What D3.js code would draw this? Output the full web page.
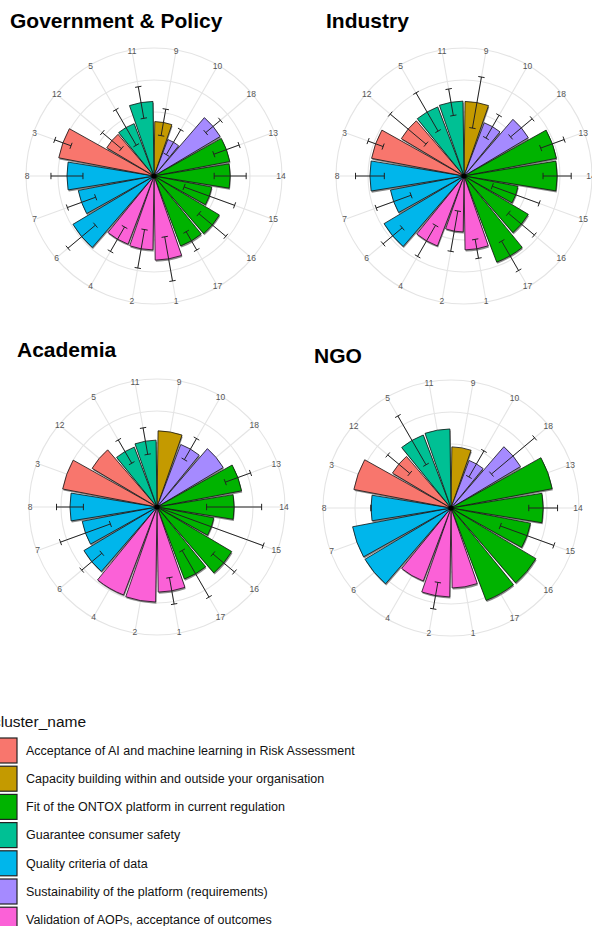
<!DOCTYPE html>
<html>
<head>
<meta charset="utf-8">
<script src="https://cdnjs.cloudflare.com/ajax/libs/d3/7.8.5/d3.min.js"></script>
<style>
  body { margin: 0; background: #fff; }
  svg { display: block; font-family: "Liberation Sans", Arial, sans-serif; }
</style>
</head>
<body>
<script>
const W = 592, H = 926;

// item ids, in the order they sit clockwise from 12 o'clock
const items = ["9", "10", "18", "13", "14", "15", "16", "17", "1", "2", "4", "6", "7", "8", "3", "12", "5", "11"];

const clusters = [
  "Acceptance of AI and machine learning in Risk Assessment",
  "Capacity building within and outside your organisation",
  "Fit of the ONTOX platform in current regulation",
  "Guarantee consumer safety",
  "Quality criteria of data",
  "Sustainability of the platform (requirements)",
  "Validation of AOPs, acceptance of outcomes"
];
const clusterColors = ["#F8766D", "#C49A00", "#00B300", "#00C094", "#00B6EB", "#A58AFF", "#FB61D7"];

// cluster of each item (same order as items)
const itemCluster = [1, 5, 5, 2, 2, 2, 2, 2, 6, 6, 6, 4, 4, 4, 0, 0, 3, 3];

const groups = ["Government & Policy", "Industry", "Academia", "NGO"];

// mean score and sd per item (same order as items), null = no error bar
const govMean = [1.70, 1.22, 2.41, 2.41, 2.38, 1.84, 2.38, 2.34, 2.63, 2.31, 2.28, 2.95, 2.41, 2.72, 3.03, 1.72, 1.75, 2.33];
const govSd   = [0.42, 0.45, 0.30, 0.42, 0.50, 0.84, 0.55, 0.33, 0.70, 0.61, 0.44, 0.56, 0.47, 0.50, 0.27, 0.39, 0.64, 0.50];

const indMean = [2.33, 1.78, 2.34, 2.94, 2.91, 1.72, 2.34, 2.88, 2.31, 1.75, 2.34, 2.91, 2.34, 2.94, 2.94, 2.28, 2.31, 2.34];
const indSd   = [0.81, 0.41, 0.44, 0.39, 0.44, 0.78, 0.53, 0.53, 0.30, 0.64, 0.56, 0.39, 0.58, 0.45, 0.25, 0.73, 0.69, 0.42];

const acaMean = [2.38, 2.09, 2.41, 2.69, 2.41, 1.81, 2.72, 2.41, 2.66, 2.97, 2.94, 2.66, 2.38, 2.72, 3.00, 2.36, 2.00, 2.09];
const acaSd   = [null, 0.38, null, 0.42, 0.86, 1.72, 0.44, 0.84, 0.42, null, null, 0.41, 0.83, 0.42, null, null, 0.42, 0.42];

const ngoMean = [1.91, 1.59, 2.53, 3.22, 2.88, 2.53, 3.09, 3.09, 2.50, 2.78, 2.44, 3.13, 3.13, 2.50, 3.09, 2.13, 2.44, 2.47];
const ngoSd   = [null, 0.47, 0.88, null, 0.45, 0.89, null, null, null, 0.42, null, null, null, 0, null, 0.45, 0.88, null];

const rTicks = [1, 2, 3, 4];

// panel placement
const panels = [
  { title: groups[0], mean: govMean, sd: govSd, cx: 154, cy: 176, tx: 10, ty: 28 },
  { title: groups[1], mean: indMean, sd: indSd, cx: 464, cy: 176, tx: 326, ty: 28 },
  { title: groups[2], mean: acaMean, sd: acaSd, cx: 157, cy: 507, tx: 17, ty: 357 },
  { title: groups[3], mean: ngoMean, sd: ngoSd, cx: 451, cy: 508, tx: 314, ty: 363 }
];

const svg = d3.select("body").append("svg")
  .attr("width", W)
  .attr("height", H);

svg.append("rect").attr("width", W).attr("height", H).attr("fill", "#fff");

const x = d3.scaleBand()
  .domain(items)
  .range([0, 2 * Math.PI])
  .paddingInner(0.08)
  .paddingOuter(0.04);

const r = d3.scaleLinear().domain([0, 4]).range([0, 128]);

const color = d3.scaleOrdinal().domain(clusters).range(clusterColors);

const mid = d => x(d) + x.bandwidth() / 2;
// angle measured clockwise from 12 o'clock
const pt = (a, rad) => [rad * Math.sin(a), -rad * Math.cos(a)];

function drawPanel(p) {
  svg.append("text")
    .attr("x", p.tx)
    .attr("y", p.ty)
    .attr("font-size", 21)
    .attr("font-weight", "bold")
    .attr("fill", "#000")
    .text(p.title);

  const g = svg.append("g").attr("transform", `translate(${p.cx},${p.cy})`);

  // grid
  g.selectAll("circle.grid")
    .data(rTicks)
    .join("circle")
    .attr("class", "grid")
    .attr("r", d => r(d))
    .attr("fill", "none")
    .attr("stroke", "#e4e4e4")
    .attr("stroke-width", 1.1);

  g.selectAll("line.spoke")
    .data(items)
    .join("line")
    .attr("class", "spoke")
    .attr("x1", 0).attr("y1", 0)
    .attr("x2", d => pt(mid(d), r(3.9))[0])
    .attr("y2", d => pt(mid(d), r(3.9))[1])
    .attr("stroke", "#e4e4e4")
    .attr("stroke-width", 1.1);

  g.selectAll("text.lab")
    .data(items)
    .join("text")
    .attr("class", "lab")
    .attr("x", d => pt(mid(d), 127)[0])
    .attr("y", d => pt(mid(d), 127)[1])
    .attr("dy", "0.35em")
    .attr("text-anchor", "middle")
    .attr("font-size", 8.5)
    .attr("fill", "#555")
    .text(d => d);

  const data = items.map((it, i) => ({
    item: it,
    cluster: clusters[itemCluster[i]],
    mean: p.mean[i],
    sd: p.sd[i]
  }));

  const arc = d3.arc()
    .innerRadius(0)
    .outerRadius(d => r(d.mean))
    .startAngle(d => x(d.item))
    .endAngle(d => x(d.item) + x.bandwidth());

  // grey drop shadow
  g.selectAll("path.shadow")
    .data(data)
    .join("path")
    .attr("class", "shadow")
    .attr("transform", "translate(0.7,1.6)")
    .attr("d", arc)
    .attr("fill", "#8a8a8a");

  g.selectAll("path.bar")
    .data(data)
    .join("path")
    .attr("class", "bar")
    .attr("d", arc)
    .attr("fill", d => color(d.cluster))
    .attr("stroke", "#111")
    .attr("stroke-width", 0.8);

  // error bars
  const eb = data.filter(d => d.sd !== null);
  const cap = 3.2;
  const ebG = g.selectAll("g.eb")
    .data(eb)
    .join("g")
    .attr("class", "eb")
    .attr("stroke", "#222")
    .attr("stroke-width", 1);

  ebG.each(function (d) {
    const a = mid(d.item);
    const lo = r(Math.max(0, d.mean - d.sd));
    const hi = r(d.mean + d.sd);
    const p0 = pt(a, lo), p1 = pt(a, hi);
    const n = [Math.cos(a), Math.sin(a)];
    const s = d3.select(this);
    s.append("line")
      .attr("x1", p0[0]).attr("y1", p0[1])
      .attr("x2", p1[0]).attr("y2", p1[1]);
    [p0, p1].forEach(q => {
      s.append("line")
        .attr("x1", q[0] - n[0] * cap).attr("y1", q[1] - n[1] * cap)
        .attr("x2", q[0] + n[0] * cap).attr("y2", q[1] + n[1] * cap);
    });
  });

  g.append("circle").attr("r", 2.6).attr("fill", "#000");
}

panels.forEach(drawPanel);

// legend
const legY = d3.scaleBand()
  .domain(clusters)
  .range([736.5, 736.5 + 28.2 * clusters.length]);

svg.append("text")
  .attr("x", -7)
  .attr("y", 727)
  .attr("font-size", 15.5)
  .attr("fill", "#111")
  .text("cluster_name");

const leg = svg.selectAll("g.leg")
  .data(clusters)
  .join("g")
  .attr("class", "leg")
  .attr("transform", d => `translate(0,${legY(d)})`);

leg.append("rect")
  .attr("x", -7)
  .attr("y", 1.5)
  .attr("width", 24)
  .attr("height", 25)
  .attr("fill", d => color(d))
  .attr("stroke", "#222")
  .attr("stroke-width", 1.2);

leg.append("text")
  .attr("x", 26)
  .attr("y", 14)
  .attr("dy", "0.35em")
  .attr("font-size", 12.5)
  .attr("fill", "#111")
  .text(d => d);
</script>
</body>
</html>
